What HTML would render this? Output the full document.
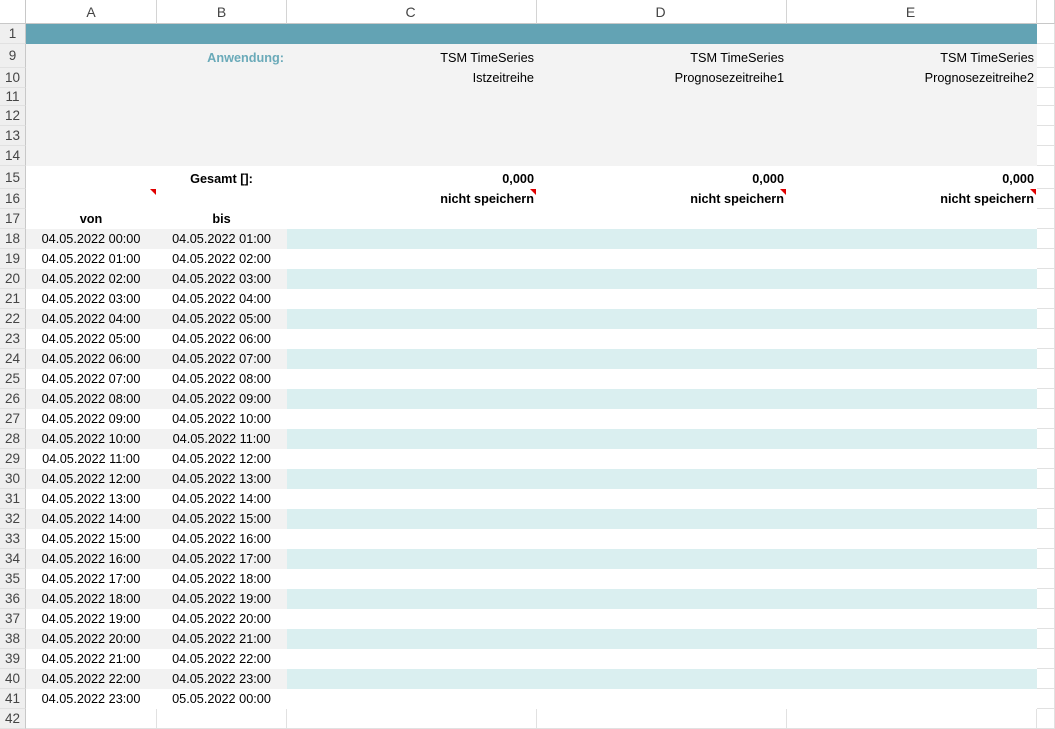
<!DOCTYPE html>
<html><head><meta charset="utf-8"><style>
*{margin:0;padding:0;box-sizing:border-box}
body{width:1055px;height:729px;overflow:hidden;background:#fff;font-family:"Liberation Sans",sans-serif;font-size:12.7px;color:#000;position:relative}
.r{position:absolute;left:0;width:1055px;height:20px;display:flex}
.r>div{height:100%;border-right:1px solid #e1e1e1;border-bottom:1px solid #e1e1e1;display:flex;align-items:flex-end;padding-bottom:2px;white-space:nowrap;overflow:visible;position:relative}
.n{width:26px;background:#efefef;color:#444;font-size:13.5px;justify-content:center;border-right:1px solid #c8c8c8!important;align-items:center!important;padding-bottom:0!important}
.a{width:131px;justify-content:center}.b{width:130px;justify-content:center}
.c{width:250px;justify-content:flex-end;padding-right:2px}
.f{width:18px}
.g .a,.g .b{background:#f2f2f2;border-color:#f2f2f2}
.g .c{background:#daeff0;border-color:#daeff0}
.w .a,.w .b,.w .c{border-color:#fff}
.hd{top:0;height:24px;background:#fff}
.hd>div{justify-content:center;align-items:center!important;padding-bottom:0!important;color:#444;font-size:14px;border-right:1px solid #d4d4d4;border-bottom:1px solid #c8c8c8}
.gray .a,.gray .b,.gray .c{background:#f3f3f3;border-color:#f3f3f3}
.bold{font-weight:bold}
.tri{position:absolute;right:0;top:0;width:0;height:0;border-top:6px solid #e00000;border-left:6px solid transparent}
</style></head><body>
<div class="r hd"><div class="n" style="background:#fff"></div><div class="a">A</div><div class="b">B</div><div class="c" style="justify-content:center">C</div><div class="c" style="justify-content:center">D</div><div class="c" style="justify-content:center">E</div><div class="f"></div></div>
<div class="r" style="top:24px;height:20px"><div class="n">1</div><div style="width:1011px;background:#63a3b4;border:none"></div><div class="f"></div></div>
<div class="r gray" style="top:44px;height:24px"><div class="n">9</div><div class="a"></div><div class="b" style="justify-content:flex-end;padding-right:2px;color:#6aaab9;font-weight:bold">Anwendung:</div><div class="c">TSM TimeSeries</div><div class="c">TSM TimeSeries</div><div class="c">TSM TimeSeries</div><div class="f"></div></div>
<div class="r gray" style="top:68px;height:20px"><div class="n">10</div><div class="a"></div><div class="b"></div><div class="c">Istzeitreihe</div><div class="c">Prognosezeitreihe1</div><div class="c">Prognosezeitreihe2</div><div class="f"></div></div>
<div class="r gray" style="top:88px;height:18px"><div class="n">11</div><div class="a"></div><div class="b"></div><div class="c"></div><div class="c"></div><div class="c"></div><div class="f"></div></div>
<div class="r gray" style="top:106px"><div class="n">12</div><div class="a"></div><div class="b"></div><div class="c"></div><div class="c"></div><div class="c"></div><div class="f"></div></div>
<div class="r gray" style="top:126px"><div class="n">13</div><div class="a"></div><div class="b"></div><div class="c"></div><div class="c"></div><div class="c"></div><div class="f"></div></div>
<div class="r gray" style="top:146px"><div class="n">14</div><div class="a"></div><div class="b"></div><div class="c"></div><div class="c"></div><div class="c"></div><div class="f"></div></div>
<div class="r w bold" style="top:166px;height:23px"><div class="n" style="font-weight:normal">15</div><div class="a"></div><div class="b">Gesamt []:</div><div class="c">0,000</div><div class="c">0,000</div><div class="c">0,000</div><div class="f"></div></div>
<div class="r w bold" style="top:189px"><div class="n" style="font-weight:normal">16</div><div class="a"><span class="tri"></span></div><div class="b"></div><div class="c">nicht speichern<span class="tri"></span></div><div class="c">nicht speichern<span class="tri"></span></div><div class="c">nicht speichern<span class="tri"></span></div><div class="f"></div></div>
<div class="r w bold" style="top:209px"><div class="n" style="font-weight:normal">17</div><div class="a">von</div><div class="b">bis</div><div class="c"></div><div class="c"></div><div class="c"></div><div class="f"></div></div>
<div class="r g" style="top:229px"><div class="n">18</div><div class="a">04.05.2022 00:00</div><div class="b">04.05.2022 01:00</div><div class="c"></div><div class="c"></div><div class="c"></div><div class="f"></div></div>
<div class="r w" style="top:249px"><div class="n">19</div><div class="a">04.05.2022 01:00</div><div class="b">04.05.2022 02:00</div><div class="c"></div><div class="c"></div><div class="c"></div><div class="f"></div></div>
<div class="r g" style="top:269px"><div class="n">20</div><div class="a">04.05.2022 02:00</div><div class="b">04.05.2022 03:00</div><div class="c"></div><div class="c"></div><div class="c"></div><div class="f"></div></div>
<div class="r w" style="top:289px"><div class="n">21</div><div class="a">04.05.2022 03:00</div><div class="b">04.05.2022 04:00</div><div class="c"></div><div class="c"></div><div class="c"></div><div class="f"></div></div>
<div class="r g" style="top:309px"><div class="n">22</div><div class="a">04.05.2022 04:00</div><div class="b">04.05.2022 05:00</div><div class="c"></div><div class="c"></div><div class="c"></div><div class="f"></div></div>
<div class="r w" style="top:329px"><div class="n">23</div><div class="a">04.05.2022 05:00</div><div class="b">04.05.2022 06:00</div><div class="c"></div><div class="c"></div><div class="c"></div><div class="f"></div></div>
<div class="r g" style="top:349px"><div class="n">24</div><div class="a">04.05.2022 06:00</div><div class="b">04.05.2022 07:00</div><div class="c"></div><div class="c"></div><div class="c"></div><div class="f"></div></div>
<div class="r w" style="top:369px"><div class="n">25</div><div class="a">04.05.2022 07:00</div><div class="b">04.05.2022 08:00</div><div class="c"></div><div class="c"></div><div class="c"></div><div class="f"></div></div>
<div class="r g" style="top:389px"><div class="n">26</div><div class="a">04.05.2022 08:00</div><div class="b">04.05.2022 09:00</div><div class="c"></div><div class="c"></div><div class="c"></div><div class="f"></div></div>
<div class="r w" style="top:409px"><div class="n">27</div><div class="a">04.05.2022 09:00</div><div class="b">04.05.2022 10:00</div><div class="c"></div><div class="c"></div><div class="c"></div><div class="f"></div></div>
<div class="r g" style="top:429px"><div class="n">28</div><div class="a">04.05.2022 10:00</div><div class="b">04.05.2022 11:00</div><div class="c"></div><div class="c"></div><div class="c"></div><div class="f"></div></div>
<div class="r w" style="top:449px"><div class="n">29</div><div class="a">04.05.2022 11:00</div><div class="b">04.05.2022 12:00</div><div class="c"></div><div class="c"></div><div class="c"></div><div class="f"></div></div>
<div class="r g" style="top:469px"><div class="n">30</div><div class="a">04.05.2022 12:00</div><div class="b">04.05.2022 13:00</div><div class="c"></div><div class="c"></div><div class="c"></div><div class="f"></div></div>
<div class="r w" style="top:489px"><div class="n">31</div><div class="a">04.05.2022 13:00</div><div class="b">04.05.2022 14:00</div><div class="c"></div><div class="c"></div><div class="c"></div><div class="f"></div></div>
<div class="r g" style="top:509px"><div class="n">32</div><div class="a">04.05.2022 14:00</div><div class="b">04.05.2022 15:00</div><div class="c"></div><div class="c"></div><div class="c"></div><div class="f"></div></div>
<div class="r w" style="top:529px"><div class="n">33</div><div class="a">04.05.2022 15:00</div><div class="b">04.05.2022 16:00</div><div class="c"></div><div class="c"></div><div class="c"></div><div class="f"></div></div>
<div class="r g" style="top:549px"><div class="n">34</div><div class="a">04.05.2022 16:00</div><div class="b">04.05.2022 17:00</div><div class="c"></div><div class="c"></div><div class="c"></div><div class="f"></div></div>
<div class="r w" style="top:569px"><div class="n">35</div><div class="a">04.05.2022 17:00</div><div class="b">04.05.2022 18:00</div><div class="c"></div><div class="c"></div><div class="c"></div><div class="f"></div></div>
<div class="r g" style="top:589px"><div class="n">36</div><div class="a">04.05.2022 18:00</div><div class="b">04.05.2022 19:00</div><div class="c"></div><div class="c"></div><div class="c"></div><div class="f"></div></div>
<div class="r w" style="top:609px"><div class="n">37</div><div class="a">04.05.2022 19:00</div><div class="b">04.05.2022 20:00</div><div class="c"></div><div class="c"></div><div class="c"></div><div class="f"></div></div>
<div class="r g" style="top:629px"><div class="n">38</div><div class="a">04.05.2022 20:00</div><div class="b">04.05.2022 21:00</div><div class="c"></div><div class="c"></div><div class="c"></div><div class="f"></div></div>
<div class="r w" style="top:649px"><div class="n">39</div><div class="a">04.05.2022 21:00</div><div class="b">04.05.2022 22:00</div><div class="c"></div><div class="c"></div><div class="c"></div><div class="f"></div></div>
<div class="r g" style="top:669px"><div class="n">40</div><div class="a">04.05.2022 22:00</div><div class="b">04.05.2022 23:00</div><div class="c"></div><div class="c"></div><div class="c"></div><div class="f"></div></div>
<div class="r w" style="top:689px"><div class="n">41</div><div class="a">04.05.2022 23:00</div><div class="b">05.05.2022 00:00</div><div class="c"></div><div class="c"></div><div class="c"></div><div class="f"></div></div>
<div class="r" style="top:709px"><div class="n">42</div><div class="a"></div><div class="b"></div><div class="c"></div><div class="c"></div><div class="c"></div><div class="f"></div></div>
</body></html>
